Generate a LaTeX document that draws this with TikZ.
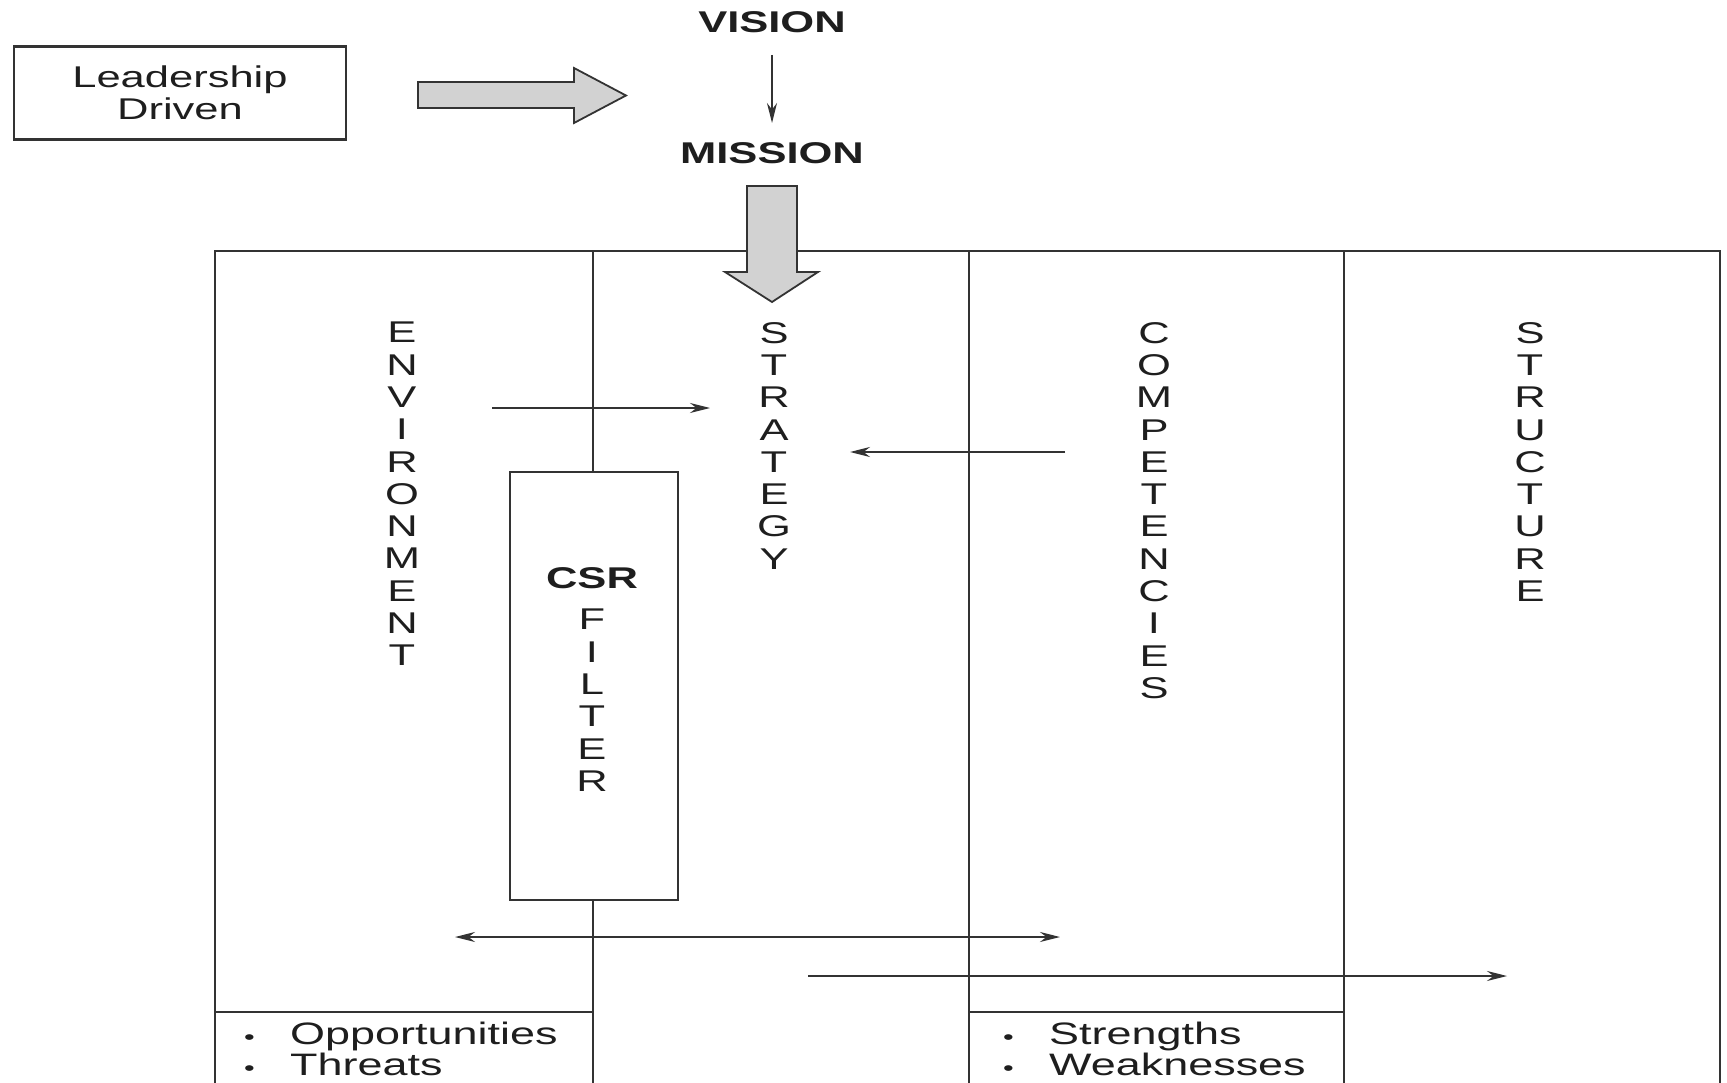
\documentclass[tikz,border=0pt]{standalone}
\usepackage{fontspec}
\setmainfont{Liberation Sans}[FakeStretch=1.45]
\usetikzlibrary{arrows.meta}
\definecolor{ink}{HTML}{1E1E1E}
\definecolor{frameln}{HTML}{333333}
\definecolor{blockfill}{HTML}{D2D2D2}
\tikzset{
  txt/.style={font=\fontsize{30}{32.3}\selectfont, text=ink, inner sep=0pt},
  btxt/.style={font=\fontsize{30}{32.3}\selectfont\bfseries, text=ink, inner sep=0pt},
  vtext/.style={txt, align=center, anchor=north},
  frameline/.style={draw=frameln, line width=2.6pt},
  thinarrow/.style={draw=frameln, line width=1.5pt, -{Stealth[length=20pt,width=10pt]}},
  dblarrow/.style={draw=frameln, line width=1.5pt, {Stealth[length=20pt,width=10pt]}-{Stealth[length=20pt,width=10pt]}},
  blockarrow/.style={fill=blockfill, draw=frameln, line width=1.8pt, line join=miter},
  leaderbox/.style={draw=frameln, line width=2.4pt, minimum width=332pt, minimum height=93pt, inner sep=0pt, align=center, font=\fontsize{30}{32}\selectfont, text=ink},
  csrbox/.style={draw=frameln, line width=2.6pt, fill=white, minimum width=168pt, minimum height=428pt, inner sep=0pt},
}
\begin{document}
\begin{tikzpicture}[x=1pt,y=-1pt]
\useasboundingbox (0,0) rectangle (1727,1083);
\fill[white] (0,0) rectangle (1727,1083);

% top part
\node[leaderbox] (leader) at (180,93) {Leadership\\Driven};
\node[btxt] (vision) at (772,22) {VISION};
\node[btxt] (mission) at (772,153) {MISSION};
\coordinate (va) at (772,55);
\coordinate (vb) at (772,123);
\draw[thinarrow] (va) -- (vb);

% frame
\coordinate (tl) at (215,251);
\coordinate (tr) at (1720,251);
\coordinate (bl) at (215,1083);
\coordinate (br) at (1720,1083);
\draw[frameline] (bl) -- (tl) -- (tr) -- (br);
\draw[frameline] (969,251) -- (969,1083);
\draw[frameline] (1344,251) -- (1344,1083);
\draw[frameline] (593,251) -- (593,472);
\draw[frameline] (593,900) -- (593,1083);
\draw[frameline] (215,1012) -- (593,1012);
\draw[frameline] (969,1012) -- (1344,1012);

% CSR filter box
\node[csrbox] (csr) at (594,686) {};
\node[btxt] (csrlbl) at (592,578) {CSR};
\node[vtext] (filter) at (592,609) {F\\I\\L\\T\\E\\R};

% column titles
\node[vtext] (env) at (402,322) {E\\N\\V\\I\\R\\O\\N\\M\\E\\N\\T};
\node[vtext] (strat) at (774,322) {S\\T\\R\\A\\T\\E\\G\\Y};
\node[vtext] (comp) at (1154,322) {C\\O\\M\\P\\E\\T\\E\\N\\C\\I\\E\\S};
\node[vtext] (struct) at (1530,322) {S\\T\\R\\U\\C\\T\\U\\R\\E};

% bottom lists
\node[txt, anchor=base west, font=\fontsize{31}{32}\selectfont] (opp) at (244,1044) {\makebox[46pt][l]{\fontsize{21}{21}\selectfont•}Opportunities};
\node[txt, anchor=base west, font=\fontsize{31}{32}\selectfont] (thr) at (244,1075) {\makebox[46pt][l]{\fontsize{21}{21}\selectfont•}Threats};
\node[txt, anchor=base west, font=\fontsize{31}{32}\selectfont] (str) at (1003,1044) {\makebox[46pt][l]{\fontsize{21}{21}\selectfont•}Strengths};
\node[txt, anchor=base west, font=\fontsize{31}{32}\selectfont] (wea) at (1003,1075) {\makebox[46pt][l]{\fontsize{21}{21}\selectfont•}Weaknesses};

% thin arrows
\coordinate (e1) at (492,408);
\coordinate (e2) at (710,408);
\draw[thinarrow] (e1) -- (e2);
\coordinate (c1) at (1065,452);
\coordinate (c2) at (850,452);
\draw[thinarrow] (c1) -- (c2);
\coordinate (d1) at (455,937);
\coordinate (d2) at (1060,937);
\draw[dblarrow] (d1) -- (d2);
\coordinate (r1) at (808,976);
\coordinate (r2) at (1507,976);
\draw[thinarrow] (r1) -- (r2);

% block arrows
\draw[blockarrow] (418,82) -- (574,82) -- (574,68) -- (626,95.5) -- (574,123) -- (574,108) -- (418,108) -- cycle;
\draw[blockarrow] (747,186) -- (797,186) -- (797,272) -- (818,272) -- (772,302) -- (725,272) -- (747,272) -- cycle;
\end{tikzpicture}
\end{document}
